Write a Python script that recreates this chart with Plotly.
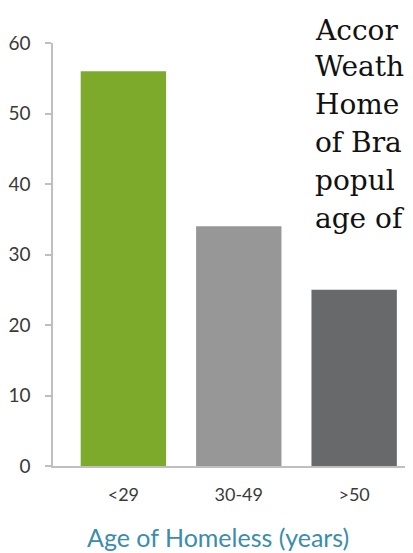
import plotly.graph_objects as go

categories = ["<29", "30-49", ">50"]
values = [56, 34, 25]
bar_colors = ["#7DAA2A", "#979797", "#68696B"]
y_ticks = [0, 10, 20, 30, 40, 50, 60]
axis_title = "Age of Homeless (years)"
side_text = ["Accor", "Weath", "Home", "of Bra", "popul", "age of"]

# page body has an 8px margin; target pixel positions are given in window coords
OFF = 8
W, H = 413 - OFF, 553 - OFF
ML, MR, MT = 53 - OFF, 0, 43 - OFF
MB = H - (466 - OFF)
plot_h = H - MT - MB
plot_w = W - ML - MR

def py(pix):
    return (H - MB - (pix - OFF)) / plot_h

def px(pix):
    return (pix - OFF - ML) / plot_w

fig = go.Figure()
fig.add_trace(go.Bar(
    x=list(range(len(categories))), y=values,
    marker=dict(color=bar_colors, line=dict(width=0)),
    width=0.74,
))

fig.update_layout(
    width=W, height=H,
    margin=dict(l=ML, r=MR, t=MT, b=MB, pad=0),
    paper_bgcolor="white", plot_bgcolor="white",
    showlegend=False,
    xaxis=dict(
        range=[-0.61, 2.51],
        tickmode="array", tickvals=list(range(len(categories))), ticktext=categories,
        showline=True, linecolor="#BFBFBF", linewidth=1.5,
        showgrid=False, zeroline=False, ticks="",
        tickfont=dict(family="Lato", size=18, color="#3A3A3A"),
        ticklabelstandoff=12,
    ),
    yaxis=dict(
        range=[0, 60], tickvals=y_ticks,
        showline=True, linecolor="#BFBFBF", linewidth=1.5,
        showgrid=False, zeroline=False,
        ticks="outside", ticklen=6, tickcolor="#BFBFBF", tickwidth=1.5,
        tickfont=dict(family="Lato", size=19, color="#3A3A3A"),
        ticklabelstandoff=11,
    ),
)

fig.add_annotation(
    text=axis_title, xref="paper", yref="paper",
    x=px(218), y=py(537), xanchor="center", yanchor="middle",
    showarrow=False, font=dict(family="Lato", size=25, color="#3A8DAD"),
)

centers = [30, 67, 104, 142, 180, 218]
for line, c in zip(side_text, centers):
    fig.add_annotation(
        text=line, xref="paper", yref="paper",
        x=px(313), y=py(c), xanchor="left", yanchor="middle",
        showarrow=False, font=dict(family="DejaVu Serif", size=28, color="#111111"),
        bgcolor="rgba(0,0,0,0)",
    )

fig.write_html("out.html")
